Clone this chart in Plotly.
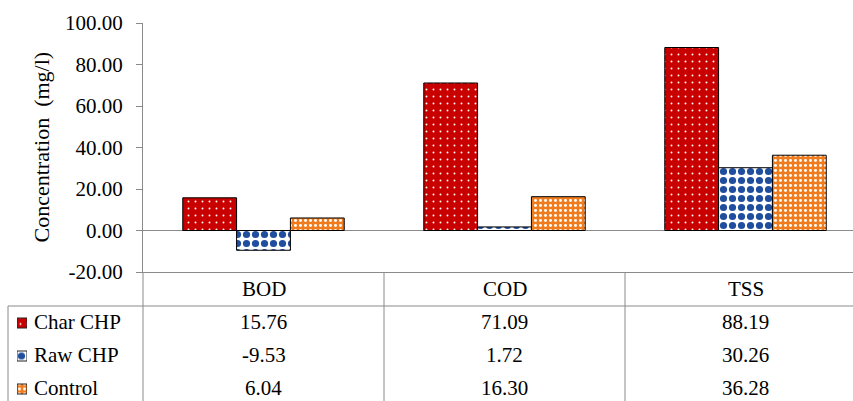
import plotly.graph_objects as go

# ---- data -------------------------------------------------------------
categories = ["BOD", "COD", "TSS"]
series_names = ["Char CHP", "Raw CHP", "Control"]
char_chp = [15.76, 71.09, 88.19]
raw_chp = [-9.53, 1.72, 30.26]
control = [6.04, 16.30, 36.28]
y_tick_values = [-20, 0, 20, 40, 60, 80, 100]

series_values = [char_chp, raw_chp, control]

# ---- geometry (pixels) ------------------------------------------------
W, H = 853, 401
PLOT_LEFT, PLOT_TOP, PLOT_BOTTOM = 143, 23, 272
CAT_PX = 241.0                       # width of one category slot
X_RANGE = [-0.5, -0.5 + (W - PLOT_LEFT) / CAT_PX]

HEADER_Y = 289
ROW_Y = [322, 355, 388]
ROW_PITCH = 33
TABLE_LEFT = 8
HEADER_LINE = 306
SWATCH = (17, 27)
LABEL_X = 32

FONT = "'Liberation Serif', 'Times New Roman', Times, 'DejaVu Serif', serif"
GRAY = "#8a8a8a"
TXT = dict(family=FONT, size=21, color="black")


def px(x):
    return x / W


def py(y):
    return (H - y) / H


def cat_to_px(v):
    return PLOT_LEFT + (v - X_RANGE[0]) / (X_RANGE[1] - X_RANGE[0]) * (W - PLOT_LEFT)


styles = [
    dict(color="#C80000", pattern=dict(shape=".", bgcolor="#C80000", fgcolor="white",
                                       size=7, solidity=0.06, fillmode="replace")),
    dict(color="white", pattern=dict(shape=".", bgcolor="white", fgcolor="#1F4E9E",
                                     size=9, solidity=0.5, fillmode="replace")),
    dict(color="#F07C1E", pattern=dict(shape=".", bgcolor="#F07C1E", fgcolor="white",
                                       size=5, solidity=0.28, fillmode="replace")),
]

fig = go.Figure()

# main grouped bars
for name, vals, st in zip(series_names, series_values, styles):
    fig.add_trace(go.Bar(
        x=categories, y=vals, name=name, showlegend=False,
        marker=dict(color=st["color"], pattern=st["pattern"],
                    line=dict(color="black", width=1)),
    ))

# key swatches in the data-table rows
for name, st in zip(series_names, styles):
    fig.add_trace(go.Bar(
        x=[1], y=[name], orientation="h", width=10 / ROW_PITCH,
        xaxis="x2", yaxis="y2", showlegend=False, hoverinfo="skip",
        marker=dict(color=st["color"], pattern=st["pattern"],
                    line=dict(color="#222222", width=1)),
    ))

shapes = []
line = dict(color=GRAY, width=1)
# y-axis line continues down through the table
shapes.append(dict(type="line", xref="paper", yref="paper",
                   x0=px(PLOT_LEFT), x1=px(PLOT_LEFT), y0=py(PLOT_BOTTOM), y1=0, line=line))
# header / body separator
shapes.append(dict(type="line", xref="paper", yref="paper",
                   x0=px(TABLE_LEFT), x1=1, y0=py(HEADER_LINE), y1=py(HEADER_LINE), line=line))
# table left border
shapes.append(dict(type="line", xref="paper", yref="paper",
                   x0=px(TABLE_LEFT), x1=px(TABLE_LEFT), y0=py(HEADER_LINE), y1=0, line=line))
# column dividers at category boundaries
for i in range(len(categories) - 1):
    xd = px(cat_to_px(i + 0.5))
    shapes.append(dict(type="line", xref="paper", yref="paper",
                       x0=xd, x1=xd, y0=py(PLOT_BOTTOM), y1=0, line=line))

annotations = []
for i, c in enumerate(categories):
    annotations.append(dict(x=i, xref="x", y=py(HEADER_Y), yref="paper", text=c,
                            showarrow=False, xanchor="center", yanchor="middle", font=TXT))
for name, vals, ry in zip(series_names, series_values, ROW_Y):
    annotations.append(dict(x=px(LABEL_X), xref="paper", y=py(ry), yref="paper", text=name,
                            showarrow=False, xanchor="left", yanchor="middle", font=TXT))
    for i, v in enumerate(vals):
        annotations.append(dict(x=i, xref="x", y=py(ry), yref="paper", text=f"{v:.2f}",
                                showarrow=False, xanchor="center", yanchor="middle", font=TXT))
annotations.append(dict(x=px(41), xref="paper", y=py((PLOT_TOP + PLOT_BOTTOM) / 2), yref="paper",
                        text="Concentration\u00a0 (mg/l)", textangle=-90, showarrow=False,
                        xanchor="center", yanchor="middle",
                        font=dict(family=FONT, size=22, color="black")))

swatch_top = HEADER_LINE + 0.5
swatch_span = (H - swatch_top) / ROW_PITCH

fig.update_layout(
    width=W, height=H,
    margin=dict(l=0, r=0, t=0, b=0, pad=0, autoexpand=False),
    paper_bgcolor="white", plot_bgcolor="white",
    font=dict(family=FONT),
    barmode="group", bargap=0.33, bargroupgap=0,
    shapes=shapes, annotations=annotations,
    xaxis=dict(
        domain=[px(PLOT_LEFT), 1], range=X_RANGE, showticklabels=False, ticks="",
        showgrid=False, showline=True, linecolor=GRAY, linewidth=1, zeroline=False,
    ),
    yaxis=dict(
        domain=[py(PLOT_BOTTOM), py(PLOT_TOP)], range=[-20, 100],
        tickvals=y_tick_values, ticktext=[f"{v:.2f}" for v in y_tick_values],
        ticks="outside", ticklen=6, tickcolor=GRAY, tickwidth=1, ticklabelstandoff=9,
        showline=True, linecolor=GRAY, linewidth=1, showgrid=False,
        zeroline=True, zerolinecolor=GRAY, zerolinewidth=1, tickfont=TXT,
    ),
    xaxis2=dict(domain=[px(SWATCH[0]), px(SWATCH[1])], range=[0, 1], anchor="y2",
                visible=False, fixedrange=True),
    yaxis2=dict(domain=[0, py(swatch_top)], type="category", categoryarray=series_names,
                range=[-0.5 + swatch_span, -0.5], anchor="x2", visible=False, fixedrange=True),
)

fig.write_html("out.html")
